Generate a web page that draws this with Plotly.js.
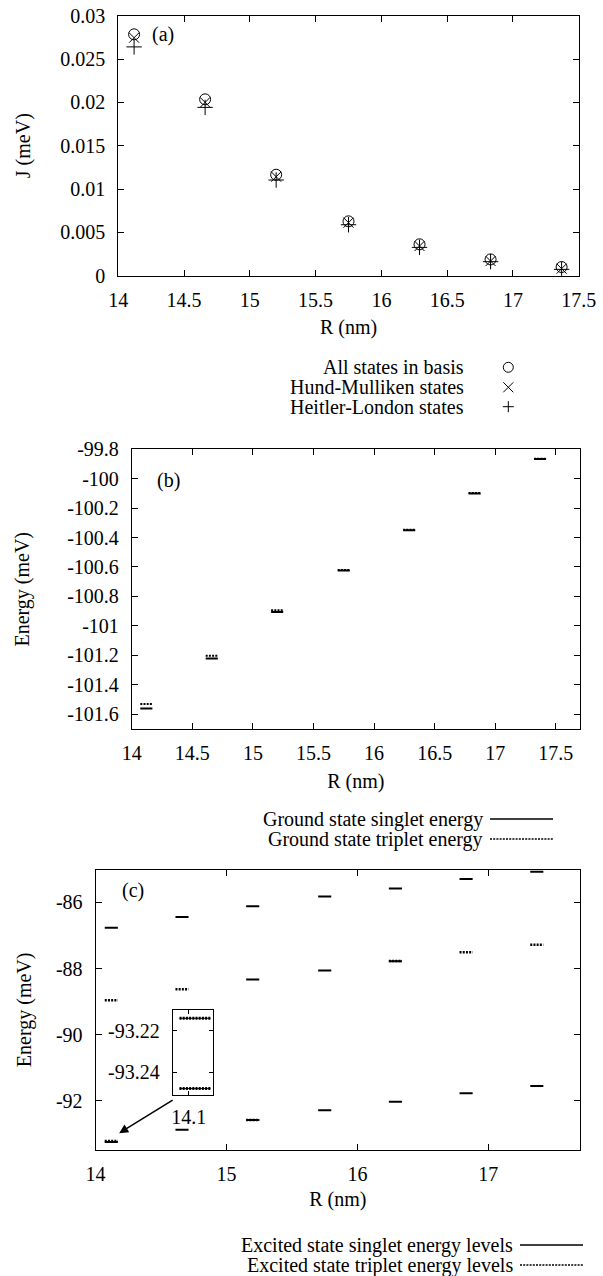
<!DOCTYPE html>
<html><head><meta charset="utf-8">
<script src="https://cdn.plot.ly/plotly-3.0.1.min.js"></script>
<style>html,body{margin:0;padding:0;background:#fff}</style>
</head><body><div id="chart" style="width:603px;height:1276px"></div>
<script>
// ---- data ----
const R = [14.12, 14.66, 15.20, 15.75, 16.29, 16.83, 17.37];
// panel (a): exchange J (meV)
const J_all = [0.02785, 0.02035, 0.01165, 0.00627, 0.00362, 0.00188, 0.00100];
const J_HM  = [0.02746, 0.02000, 0.01142, 0.00612, 0.00342, 0.00169, 0.00081];
const J_HL  = [0.02640, 0.01942, 0.01104, 0.00588, 0.00327, 0.00162, 0.00073];
// panel (b): ground state energies (meV)
const groundSinglet = [-101.562, -101.222, -100.907, -100.625, -100.350, -100.100, -99.866];
const groundTriplet = [-101.532, -101.204, -100.895, -100.620, -100.347, -100.098, -99.864];
// panel (c): excited state energies (meV)
const excSingletUpper  = [-86.77, -86.44, -86.12, -85.82, -85.58, -85.29, -85.07];
const excSingletMiddle = [null, null, -88.33, -88.06, -87.78, null, null];
const excTripletMiddle = [-88.96, -88.63, null, null, -87.77, -87.51, -87.28];
const excSingletLower  = [-93.248, -92.88, -92.585, -92.29, -92.03, -91.77, -91.55];
const excTripletLower  = [-93.214, null, -92.58, null, null, null, null];
// inset (c): zoom on the lowest level at R = 14.1
const insetLevels = [-93.214, -93.248];
// tick labels
const aXTicks = [14, 14.5, 15, 15.5, 16, 16.5, 17, 17.5];
const bYTicks = [-99.8, -100, -100.2, -100.4, -100.6, -100.8, -101, -101.2, -101.4, -101.6];
const bYText  = ['-99.8', '-100', '-100.2', '-100.4', '-100.6', '-100.8', '-101', '-101.2', '-101.4', '-101.6'];
const cXTicks = [14, 15, 16, 17];
const cYTicks = [-86, -88, -90, -92];
const cYText  = ['-86', '-88', '-90', '-92'];
const insetYTicks = [-93.22, -93.24];
const insetYText  = ['-93.22', '-93.24'];
const insetXTicks = [14.1];
const insetXText  = ['14.1'];

// ---- helpers ----
const W = 603, H = 1276;
const px = x => x / W;
const py = y => 1 - y / H;
const HW = 0.05; // half width of level segments
function segs(xs, ys) {
  const X = [], Y = [];
  xs.forEach((x, i) => { if (ys[i] == null) return; X.push(x - HW, x + HW, null); Y.push(ys[i], ys[i], null); });
  return {X, Y};
}
const FONT = {family: '"Liberation Serif", "Times New Roman", Times, serif', size: 20, color: '#000'};
const DASH = '2px,1.2px';

const traces = [];
// (a)
traces.push({x: R, y: J_all, xaxis: 'x', yaxis: 'y', mode: 'markers', name: 'All states in basis',
  marker: {symbol: 'circle-open', size: 11, color: '#000', line: {width: 1, color: '#000'}}});
traces.push({x: R, y: J_HM, xaxis: 'x', yaxis: 'y', mode: 'markers', name: 'Hund-Mulliken states',
  marker: {symbol: 'x-thin-open', size: 10, color: '#000', line: {width: 1, color: '#000'}}});
traces.push({x: R, y: J_HL, xaxis: 'x', yaxis: 'y', mode: 'markers', name: 'Heitler-London states',
  marker: {symbol: 'cross-thin-open', size: 11, color: '#000', line: {width: 1, color: '#000'}}});
// (b)
let s = segs(R, groundSinglet);
traces.push({x: s.X, y: s.Y, xaxis: 'x2', yaxis: 'y2', mode: 'lines', name: 'Ground state singlet energy',
  line: {color: '#000', width: 2}});
s = segs(R, groundTriplet);
traces.push({x: s.X, y: s.Y, xaxis: 'x2', yaxis: 'y2', mode: 'lines', name: 'Ground state triplet energy',
  line: {color: '#000', width: 2, dash: DASH}});
// (c)
[excSingletUpper, excSingletMiddle, excSingletLower].forEach(arr => {
  const q = segs(R, arr);
  traces.push({x: q.X, y: q.Y, xaxis: 'x3', yaxis: 'y3', mode: 'lines', name: 'Excited state singlet energy levels',
    line: {color: '#000', width: 2}});
});
[excTripletMiddle, excTripletLower].forEach(arr => {
  const q = segs(R, arr);
  traces.push({x: q.X, y: q.Y, xaxis: 'x3', yaxis: 'y3', mode: 'lines', name: 'Excited state triplet energy levels',
    line: {color: '#000', width: 2.5, dash: DASH}});
});
// inset
const inR = insetLevels.map(() => R[0]);
let qi = segs(inR, insetLevels);
traces.push({x: qi.X, y: qi.Y, xaxis: 'x4', yaxis: 'y4', mode: 'lines', line: {color: '#000', width: 1}});
traces.push({x: qi.X, y: qi.Y, xaxis: 'x4', yaxis: 'y4', mode: 'lines', line: {color: '#000', width: 3, dash: DASH}});

function axisBase(extra) {
  return Object.assign({
    showline: true, linecolor: '#000', linewidth: 1, mirror: 'ticks',
    ticks: 'inside', ticklen: 6, tickcolor: '#000', tickwidth: 1,
    showgrid: false, zeroline: false, tickfont: FONT, fixedrange: true
  }, extra);
}

const layout = {
  width: W, height: H, margin: {l: 0, r: 0, t: 0, b: 0},
  paper_bgcolor: '#fff', plot_bgcolor: 'rgba(0,0,0,0)', showlegend: false, font: FONT,
  xaxis: axisBase({domain: [px(118.3), px(578.7)], anchor: 'y', range: [14, 17.5], tickvals: aXTicks,
    ticklabelstandoff: 6, title: {text: 'R (nm)', font: FONT, standoff: 10}}),
  yaxis: axisBase({domain: [py(275.7), py(15.7)], anchor: 'x', range: [0, 0.03], dtick: 0.005,
    ticklabelstandoff: 8, title: {text: 'J (meV)', font: FONT, standoff: 24}}),
  xaxis2: axisBase({domain: [px(131.8), px(580)], anchor: 'y2', range: [14, 17.7], dtick: 0.5, tick0: 14,
    ticklabelstandoff: 6, title: {text: 'R (nm)', font: FONT, standoff: 10}}),
  yaxis2: axisBase({domain: [py(729.3), py(449.3)], anchor: 'x2', range: [-101.704, -99.8],
    tickvals: bYTicks, ticktext: bYText, ticklabelstandoff: 8, title: {text: 'Energy (meV)', font: FONT, standoff: 32}}),
  xaxis3: axisBase({domain: [px(95.6), px(580)], anchor: 'y3', range: [14, 17.7], tickvals: cXTicks,
    ticklabelstandoff: 6, title: {text: 'R (nm)', font: FONT, standoff: 8}}),
  yaxis3: axisBase({domain: [py(1149.7), py(870)], anchor: 'x3', range: [-93.48, -85.02],
    tickvals: cYTicks, ticktext: cYText, ticklabelstandoff: 8, title: {text: 'Energy (meV)', font: FONT, standoff: 18}}),
  xaxis4: axisBase({domain: [px(172.7), px(213.3)], anchor: 'y4', range: [14.048, 14.179], ticklen: 4,
    tickvals: insetXTicks, ticktext: insetXText, ticklabelstandoff: 4}),
  yaxis4: axisBase({domain: [py(1095), py(1010)], anchor: 'x4', range: [-93.2511, -93.2100], ticklen: 4,
    tickvals: insetYTicks, ticktext: insetYText, ticklabelstandoff: 8}),
  annotations: [],
  shapes: []
};

const A = layout.annotations;
const S = layout.shapes;
function txt(t, x, y, xanchor) {
  A.push({text: t, xref: 'paper', yref: 'paper', x: px(x), y: py(y), xanchor: xanchor || 'center', yanchor: 'middle',
    showarrow: false, font: FONT, borderpad: 0});
}
function pline(x0, y0, x1, y1, w, dash) {
  S.push({type: 'line', xref: 'paper', yref: 'paper', x0: px(x0), x1: px(x1), y0: py(y0), y1: py(y1),
    line: {color: '#000', width: w, dash: dash || 'solid'}});
}
// panel labels
txt('(a)', 163, 35); txt('(b)', 168, 481); txt('(c)', 133, 890);
// legend (a): text with sample symbols drawn to the right
const legA = ['All states in basis', 'Hund-Mulliken states', 'Heitler-London states'];
const legAY = [367.3, 387.3, 406.7];
const SX = 508.3, r = 5;
legA.forEach((t, i) => txt(t, 465, legAY[i], 'right'));
S.push({type: 'circle', xref: 'paper', yref: 'paper', x0: px(SX - r), x1: px(SX + r), y0: py(legAY[0] + r), y1: py(legAY[0] - r),
  line: {color: '#000', width: 1}});
pline(SX - r, legAY[1] - r, SX + r, legAY[1] + r, 1);
pline(SX - r, legAY[1] + r, SX + r, legAY[1] - r, 1);
pline(SX - r - 0.5, legAY[2], SX + r + 0.5, legAY[2], 1);
pline(SX, legAY[2] - r - 0.5, SX, legAY[2] + r + 0.5, 1);
// legend (b)
const legB = ['Ground state singlet energy', 'Ground state triplet energy'];
const legBY = [819, 839];
legB.forEach((t, i) => { txt(t, 484, legBY[i], 'right'); pline(490, legBY[i], 553, legBY[i], 1.5, i ? DASH : 'solid'); });
// legend (c)
const legC = ['Excited state singlet energy levels', 'Excited state triplet energy levels'];
const legCY = [1245, 1265];
legC.forEach((t, i) => { txt(t, 514, legCY[i], 'right'); pline(520, legCY[i], 583, legCY[i], 1.5, i ? DASH : 'solid'); });
// arrow from inset to the level
A.push({text: '', xref: 'x3', yref: 'y3', axref: 'x3', ayref: 'y3', x: 14.18, y: -92.98, ax: 14.60, ay: -91.95,
  showarrow: true, arrowhead: 2, arrowsize: 1.2, arrowwidth: 1.5, arrowcolor: '#000'});

Plotly.newPlot('chart', traces, layout, {displayModeBar: false, staticPlot: true});
</script>
</body></html>
